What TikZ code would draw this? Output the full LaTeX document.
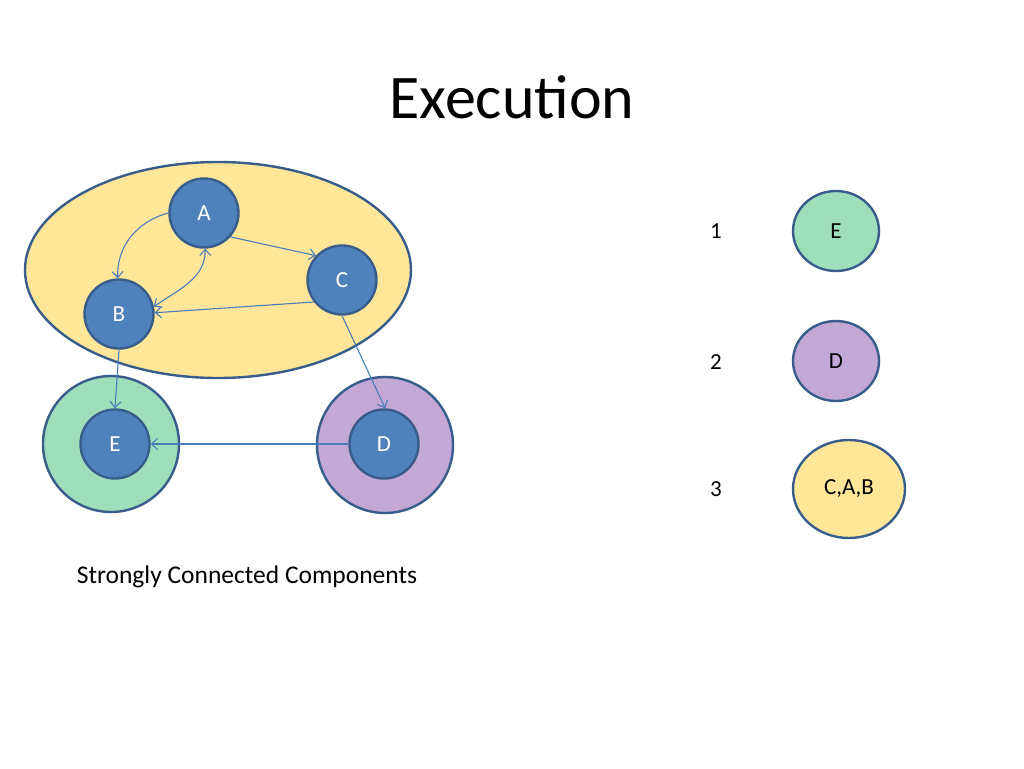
\documentclass[tikz,border=0pt]{standalone}
\usepackage{fontspec}
\setmainfont{Carlito}
\usetikzlibrary{shapes.geometric, arrows.meta, positioning}

\definecolor{sccYellow}{HTML}{FFE699}
\definecolor{sccGreen}{HTML}{9FDEBA}
\definecolor{sccPurple}{HTML}{C3A7D7}
\definecolor{vertexBlue}{HTML}{4F81BD}
\definecolor{rimBlue}{HTML}{385D8A}
\definecolor{edgeBlue}{HTML}{4A7EBB}

\begin{document}
\begin{tikzpicture}[
        x=1pt, y=-1pt,
        sccNode/.style={
            ellipse, draw=rimBlue, line width=2.4pt, inner sep=0pt
        },
        vertexNode/.style={
            circle, draw=rimBlue, line width=2.4pt, fill=vertexBlue,
            minimum size=69pt, inner sep=0pt, text=white,
            font=\fontsize{23}{27}\selectfont
        },
        orderNode/.style={
            ellipse, draw=rimBlue, line width=2.4pt, inner sep=0pt,
            font=\fontsize{23}{27}\selectfont
        },
        rankLabel/.style={font=\fontsize{23}{27}\selectfont},
        arrow/.style={
            draw=edgeBlue, line width=1.1pt,
            -{Straight Barb[length=6pt, width=11pt]}
        }
    ]
        \useasboundingbox (0,0) rectangle (1024,768);

        % Title
        \node (title) at (512,97) {\fontsize{62}{72}\selectfont Execution};

        % Components
        \node (sccCAB) [sccNode, fill=sccYellow, minimum width=386pt, minimum height=216pt] at (218,270) {};
        \node (sccE) [sccNode, fill=sccGreen, minimum width=136pt, minimum height=136pt] at (111,444) {};
        \node (sccD) [sccNode, fill=sccPurple, minimum width=136pt, minimum height=136pt] at (385,445) {};

        % Vertices
        \node (A) [vertexNode] at (204,213) {A};
        \node (B) [vertexNode] at (119,314) {B};
        \node (C) [vertexNode] at (342,280) {C};
        \node (E) [vertexNode] at (115,444) {E};
        \node (D) [vertexNode] at (384,444) {D};

        % Edges
        \draw [arrow] (A.180) to[out=195, in=92] (B.92);
        \draw [arrow, {Straight Barb[length=6pt, width=11pt]}-{Straight Barb[length=6pt, width=11pt]}] (B.12) to[out=35, in=-90] (A.-88);
        \draw [arrow] (A.-42) -- (C.137);
        \draw [arrow] (C.218) -- (B.2);
        \draw [arrow] (C.-90) -- (D.88);
        \draw [arrow] (B.south) -- (E.north);
        \draw [arrow] (D.west) -- (E.east);

        \node (caption) at (247,577) {\fontsize{25.5}{30}\selectfont Strongly Connected Components};

        % Execution order
        \node (rank1) [rankLabel] at (716,231) {1};
        \node (rank2) [rankLabel] at (716,362) {2};
        \node (rank3) [rankLabel] at (716,489) {3};
        \node (orderE) [orderNode, fill=sccGreen, minimum width=86pt, minimum height=80pt] at (836,231) {E};
        \node (orderD) [orderNode, fill=sccPurple, minimum width=86pt, minimum height=80pt] at (836,361) {D};
        \node (orderCAB) [orderNode, fill=sccYellow, minimum width=112pt, minimum height=98pt] at (849,489) {C,A,B};
    \end{tikzpicture}
\end{document}
